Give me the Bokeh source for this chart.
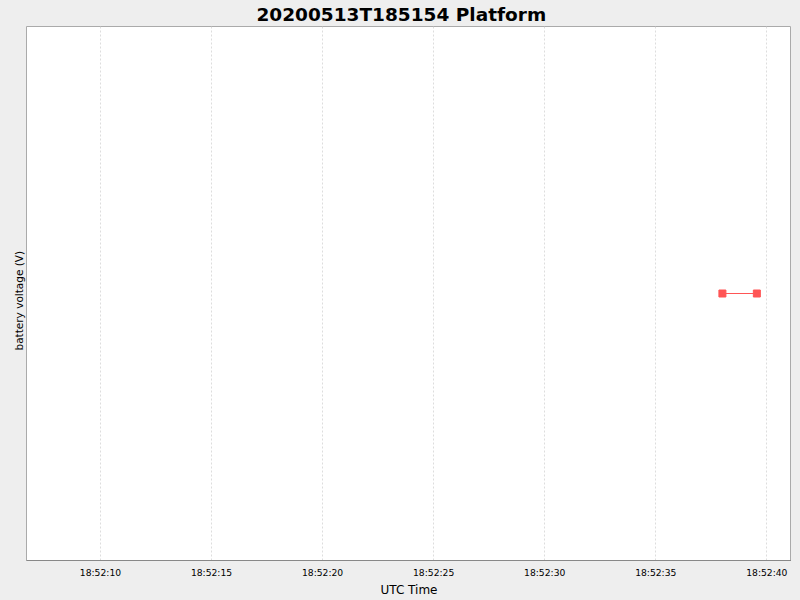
import pandas as pd
from bokeh.embed import file_html
from bokeh.models import (DatetimeTickFormatter, Range1d, SingleIntervalTicker,
                          Title)
from bokeh.plotting import figure
from bokeh.resources import INLINE

# battery voltage readings from the platform
times = pd.to_datetime(["2020-05-13 18:52:38.00", "2020-05-13 18:52:39.55"])
voltage = [12.6, 12.6]

x_start = pd.Timestamp("2020-05-13 18:52:06.67")
x_end = pd.Timestamp("2020-05-13 18:52:41.11")

p = figure(frame_width=765, frame_height=534, x_axis_type="datetime", y_axis_type=None,
           output_backend="svg", toolbar_location=None,
           x_range=Range1d(x_start, x_end), y_range=Range1d(12.0, 13.2),
           background_fill_color="white", border_fill_color="#eeeeee",
           min_border_left=0, min_border_right=0, min_border_top=0,
           min_border_bottom=0)

# title is centred on the page, not on the frame, so place it from the left
p.title.text = "20200513T185154 Platform"
p.title.align = "left"
p.title.text_font = "DejaVu Sans"
p.title.text_font_size = "18.5px"
p.title.text_font_style = "bold"
p.title.text_color = "black"
p.title.offset = 230
p.title.standoff = 3

ylab = Title(text="battery voltage (V)", align="left", text_font="DejaVu Sans",
             text_font_size="10.5px", text_font_style="normal", text_color="black",
             offset=210, standoff=4)
p.add_layout(ylab, "left")
# a thin spacer outside the label, to push the frame right
pad = Title(text=" ", text_font_size="6px", offset=0, standoff=0)
p.add_layout(pad, "left")

p.line(times, voltage, color="#ff5555", line_width=1)
p.scatter(times, voltage, marker="square", size=7, color="#ff5555")

ax = p.xaxis[0]
ax.ticker = SingleIntervalTicker(interval=5000, num_minor_ticks=0)
ax.formatter = DatetimeTickFormatter(seconds="%H:%M:%S", milliseconds="%H:%M:%S")
ax.axis_label = "UTC Time"
ax.axis_label_text_font = "DejaVu Sans"
ax.axis_label_text_font_size = "12px"
ax.axis_label_text_font_style = "normal"
ax.axis_label_text_color = "black"
ax.axis_label_standoff = 2
ax.major_label_text_font = "DejaVu Sans"
ax.major_label_text_font_size = "9.2px"
ax.major_label_text_color = "black"
ax.major_label_standoff = 6
ax.major_tick_out = 0
ax.major_tick_in = 0
ax.minor_tick_out = 0
ax.major_tick_line_color = None
ax.minor_tick_line_color = None
ax.axis_line_color = "#888888"

p.xgrid.grid_line_color = "#dddddd"
p.xgrid.grid_line_dash = "2 2"
p.ygrid.grid_line_color = None
p.outline_line_color = "#aaaaaa"

html = file_html(p, INLINE)
html = html.replace("<head>", "<head><style>body{background:#eeeeee;}</style>", 1)
open("out.html", "w").write(html)
